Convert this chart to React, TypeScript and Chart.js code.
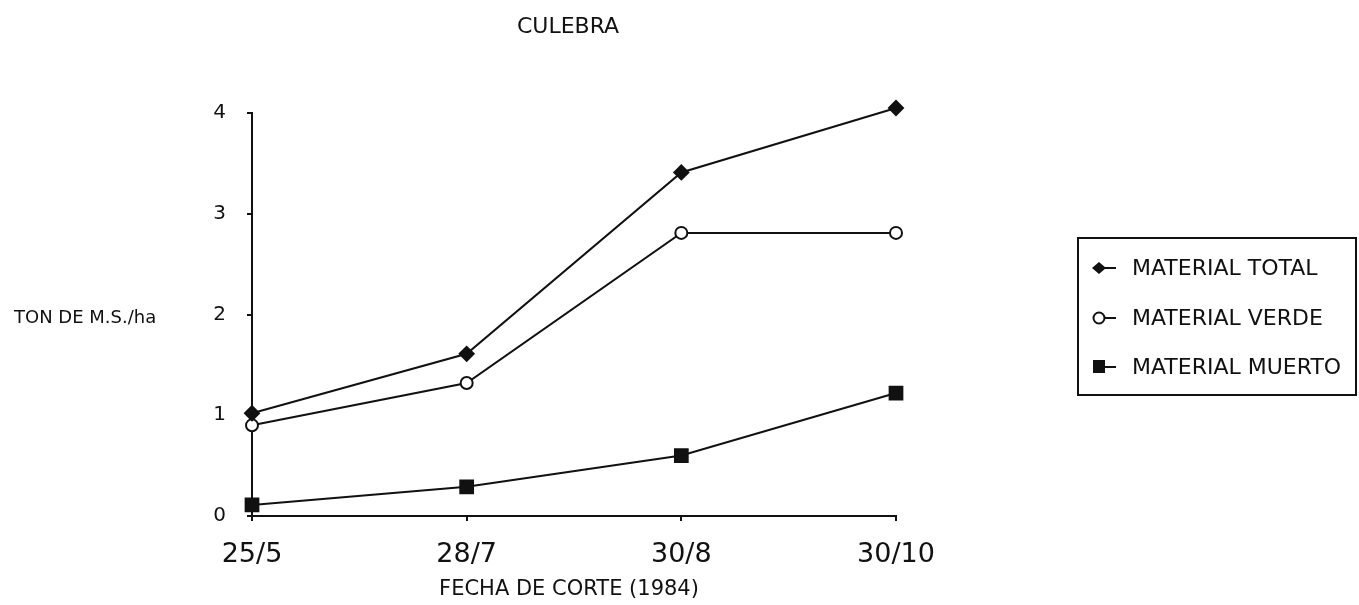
import React, { useEffect, useRef } from "react";
import { Chart, registerables } from "chart.js";

Chart.register(...registerables);

const categories = ["25/5", "28/7", "30/8", "30/10"];
const materialTotal = [1.02, 1.61, 3.41, 4.05];
const materialVerde = [0.9, 1.32, 2.81, 2.81];
const materialMuerto = [0.11, 0.29, 0.6, 1.22];
const seriesNames = ["MATERIAL TOTAL", "MATERIAL VERDE", "MATERIAL MUERTO"];
const chartTitle = "CULEBRA";
const yTitle = "TON DE M.S./ha";
const xTitle = "FECHA DE CORTE (1984)";

const FONT = "'DejaVu Sans', sans-serif";

const overlayPlugin = {
  id: "overlay",
  afterDraw(chart: any) {
    const ctx = chart.ctx;
    ctx.save();
    ctx.fillStyle = "#111";
    ctx.strokeStyle = "#111";
    // title
    ctx.font = `22px ${FONT}`;
    ctx.textAlign = "center";
    ctx.textBaseline = "middle";
    ctx.fillText(chartTitle, 568, 27);
    // x title
    ctx.font = `21px ${FONT}`;
    ctx.fillText(xTitle, 569, 590);
    // y title
    ctx.font = `18px ${FONT}`;
    ctx.textAlign = "left";
    ctx.fillText(yTitle, 14, 318);
    // legend
    ctx.lineWidth = 2;
    ctx.strokeRect(1078, 238, 278, 157);
    const rows = [268, 318, 367];
    chart.data.datasets.forEach((ds: any, i: number) => {
      const y = rows[i];
      const x = 1099;
      ctx.lineWidth = 2;
      ctx.beginPath();
      ctx.moveTo(x + 5, y);
      ctx.lineTo(x + 17, y);
      ctx.stroke();
      ctx.beginPath();
      if (ds.pointStyle === "rectRot") {
        ctx.moveTo(x, y - 6);
        ctx.lineTo(x + 7, y);
        ctx.lineTo(x, y + 6);
        ctx.lineTo(x - 7, y);
        ctx.closePath();
        ctx.fill();
      } else if (ds.pointStyle === "circle") {
        ctx.fillStyle = "#fff";
        ctx.arc(x, y, 5.5, 0, Math.PI * 2);
        ctx.fill();
        ctx.stroke();
        ctx.fillStyle = "#111";
      } else {
        ctx.rect(x - 6, y - 7, 12, 13);
        ctx.fill();
      }
      ctx.font = `22px ${FONT}`;
      ctx.textAlign = "left";
      ctx.textBaseline = "middle";
      ctx.fillText(ds.label, 1132, y + 1);
    });
    ctx.restore();
  },
};

export default function App() {
  const ref = useRef<HTMLCanvasElement | null>(null);
  useEffect(() => {
    if (!ref.current) return;
    const common = {
      borderColor: "#111",
      borderWidth: 2,
      pointBorderColor: "#111",
      pointBorderWidth: 2,
      tension: 0,
      clip: false as any,
    };
    const chart = new Chart(ref.current, {
      type: "line",
      data: {
        labels: categories,
        datasets: [
          {
            ...common,
            label: seriesNames[0],
            data: materialTotal,
            pointStyle: "rectRot",
            pointRadius: 7,
            pointBackgroundColor: "#111",
          },
          {
            ...common,
            label: seriesNames[1],
            data: materialVerde,
            pointStyle: "circle",
            pointRadius: 6,
            pointBackgroundColor: "#fff",
          },
          {
            ...common,
            label: seriesNames[2],
            data: materialMuerto,
            pointStyle: "rect",
            pointRadius: 9,
            pointBackgroundColor: "#111",
          },
        ],
      },
      options: {
        animation: false,
        responsive: false,
        layout: { padding: { left: 192, right: 463, top: 113, bottom: 0 } },
        plugins: {
          legend: { display: false },
          title: { display: false },
          tooltip: { enabled: false },
        },
        scales: {
          x: {
            type: "category",
            offset: false,
            grid: { drawOnChartArea: false, drawTicks: true, tickLength: 5, color: "#111", lineWidth: 2 },
            border: { display: true, color: "#111", width: 2 },
            ticks: { color: "#111", padding: 18, font: { family: FONT, size: 27 }, maxRotation: 0 },
            afterFit: (s: any) => {
              s.height = 89;
            },
          },
          y: {
            min: 0,
            max: 4,
            grid: { drawOnChartArea: false, drawTicks: true, tickLength: 5, color: "#111", lineWidth: 2 },
            border: { display: true, color: "#111", width: 2 },
            ticks: { stepSize: 1, color: "#111", padding: 21, font: { family: FONT, size: 20 } },
            afterFit: (s: any) => {
              s.width = 60;
            },
          },
        },
      },
      plugins: [overlayPlugin],
    });
    return () => chart.destroy();
  }, []);
  return (
    <div style={{ position: "fixed", left: 0, top: 0, width: 1359, height: 605, background: "#fff" }}>
      <canvas ref={ref} width={1359} height={605} style={{ width: 1359, height: 605 }} />
    </div>
  );
}
